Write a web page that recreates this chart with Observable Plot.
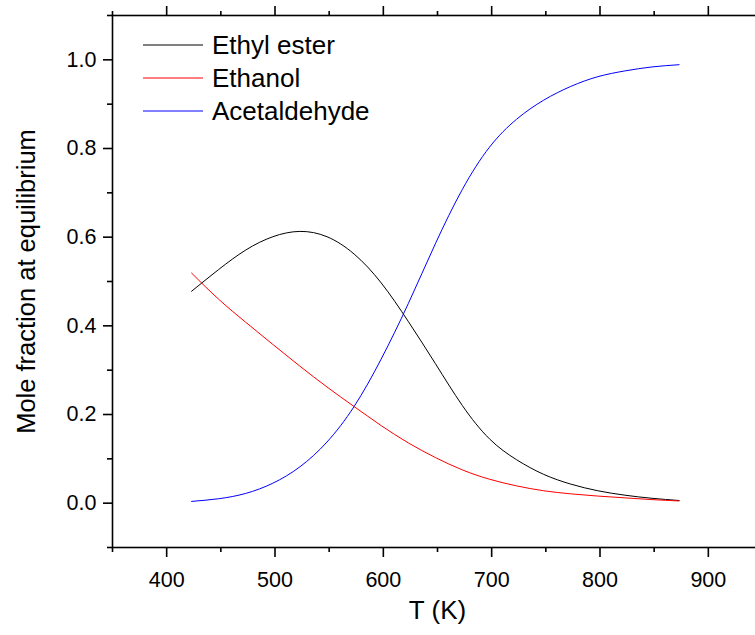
<!DOCTYPE html>
<html>
<head>
<meta charset="utf-8">
<script src="https://cdn.jsdelivr.net/npm/d3@7"></script>
<script src="https://cdn.jsdelivr.net/npm/@observablehq/plot@0.6"></script>
<style>
  html, body { margin: 0; padding: 0; background: #fff; overflow: hidden; }
</style>
</head>
<body>
<div id="chart"></div>
<script>
// Temperatures (K)
const temperature = [423, 448, 473, 498, 523, 548, 573, 598, 623, 648, 673, 698, 723, 748, 773, 798, 823, 848, 873];
// Mole fractions
const ethylEster   = [0.478, 0.527, 0.571, 0.601, 0.613, 0.601, 0.562, 0.497, 0.410, 0.315, 0.220, 0.145, 0.098, 0.065, 0.043, 0.028, 0.018, 0.011, 0.006];
const ethanol      = [0.519, 0.460, 0.408, 0.358, 0.309, 0.262, 0.218, 0.175, 0.136, 0.103, 0.075, 0.054, 0.039, 0.028, 0.021, 0.016, 0.012, 0.008, 0.005];
const acetaldehyde = [0.004, 0.010, 0.022, 0.045, 0.082, 0.138, 0.218, 0.325, 0.450, 0.585, 0.708, 0.803, 0.866, 0.909, 0.940, 0.962, 0.975, 0.984, 0.989];

const seriesNames = ["Ethyl ester", "Ethanol", "Acetaldehyde"];
const seriesColors = ["#000000", "#ff0000", "#0000ff"];
const seriesValues = [ethylEster, ethanol, acetaldehyde];

const xMajor = [400, 500, 600, 700, 800, 900];
const xMinor = [350, 450, 550, 650, 750, 850, 950];
const yMajor = [0.0, 0.2, 0.4, 0.6, 0.8, 1.0];
const yMinor = [-0.1, 0.1, 0.3, 0.5, 0.7, 0.9, 1.1];

const xTitle = "T (K)";
const yTitle = "Mole fraction at equilibrium";

const rows = [];
seriesNames.forEach((name, i) => {
  temperature.forEach((t, j) => rows.push({series: name, T: t, v: seriesValues[i][j]}));
});

const font = "'Liberation Sans', Arial, sans-serif";
const empty = () => "";

function legendMark(index, scales, values, dimensions) {
  const g = d3.create("svg:g").attr("text-anchor", "start");
  seriesNames.forEach((name, i) => {
    const y = 45 + i * 33;
    g.append("line")
      .attr("x1", 143).attr("x2", 203)
      .attr("y1", y).attr("y2", y)
      .attr("stroke", seriesColors[i]).attr("stroke-width", 1);
    g.append("text")
      .attr("x", 212).attr("y", y)
      .attr("dy", "0.36em")
      .attr("text-anchor", "start")
      .attr("font-size", 26)
      .attr("font-family", font)
      .attr("fill", "#000")
      .text(name);
  });
  return g.node();
}

const chart = Plot.plot({
  width: 762,
  height: 635,
  marginLeft: 112,
  marginRight: 0,
  marginTop: 15,
  marginBottom: 88,
  style: {fontFamily: font, fontSize: "21.5px", color: "#000", background: "#fff", maxWidth: "none"},
  x: {domain: [350, 950], label: null},
  y: {domain: [-0.1, 1.1], label: null},
  color: {domain: seriesNames, range: seriesColors},
  marks: [
    Plot.line(rows, {x: "T", y: "v", z: "series", stroke: "series", strokeWidth: 1, curve: "natural"}),
    Plot.frame({stroke: "#000", strokeWidth: 1.6}),
    // bottom axis
    Plot.axisX({anchor: "bottom", ticks: xMajor, tickSize: 10, tickPadding: 14, tickFormat: d => String(d), strokeWidth: 1.6, fontSize: 21.5}),
    Plot.axisX({anchor: "bottom", ticks: xMinor, tickSize: 5, tickFormat: empty, strokeWidth: 1.6}),
    // top axis (ticks only)
    Plot.axisX({anchor: "top", ticks: xMajor, tickSize: 10, tickFormat: empty, strokeWidth: 1.6}),
    Plot.axisX({anchor: "top", ticks: xMinor, tickSize: 5, tickFormat: empty, strokeWidth: 1.6}),
    // left axis
    Plot.axisY({anchor: "left", ticks: yMajor, tickSize: 9, tickPadding: 7, tickFormat: d => d.toFixed(1), strokeWidth: 1.6, fontSize: 21.5}),
    Plot.axisY({anchor: "left", ticks: yMinor, tickSize: 5, tickFormat: empty, strokeWidth: 1.6}),
    // axis titles
    Plot.text([xTitle], {frameAnchor: "bottom", dy: 63, textAnchor: "middle", lineAnchor: "middle", fontSize: 26, fill: "#000"}),
    Plot.text([yTitle], {frameAnchor: "left", rotate: -90, dx: -86, textAnchor: "middle", lineAnchor: "middle", fontSize: 25.5, fill: "#000"}),
    legendMark
  ]
});

document.getElementById("chart").appendChild(chart);
</script>
</body>
</html>
